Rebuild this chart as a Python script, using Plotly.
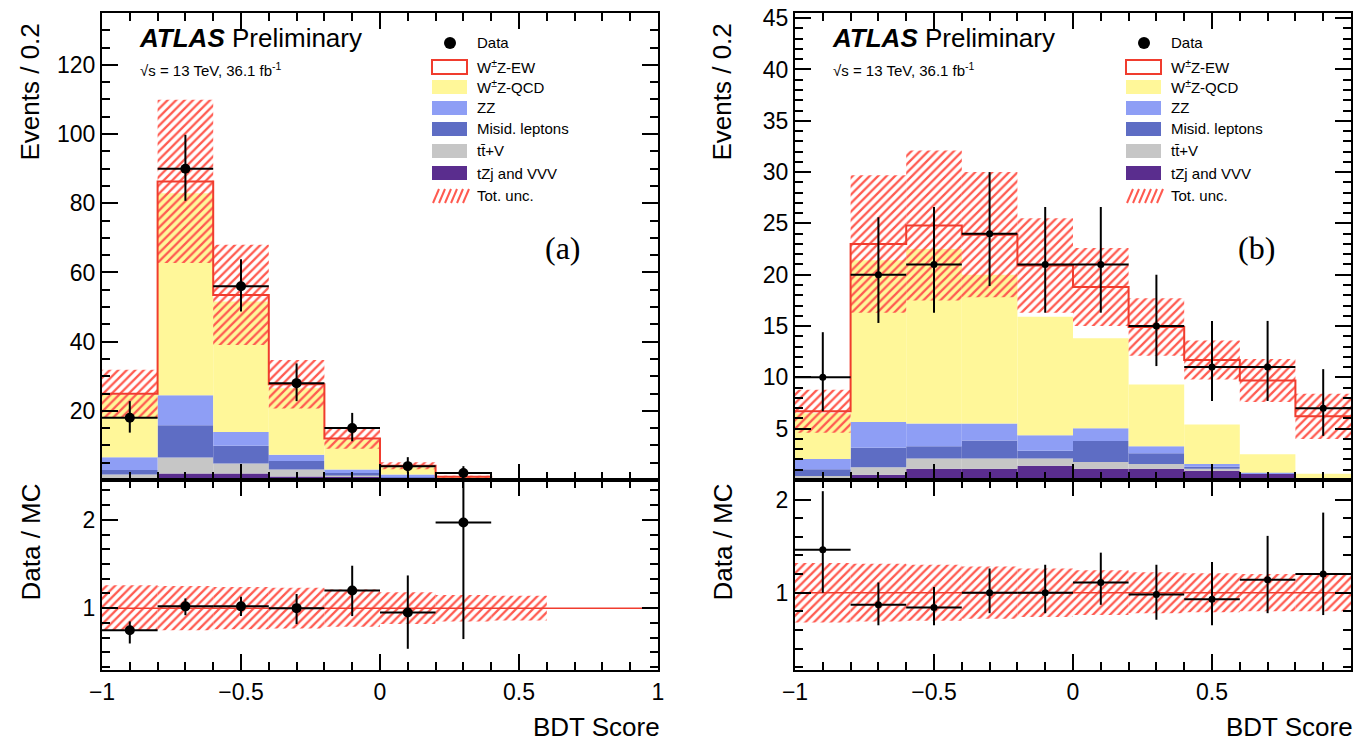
import numpy as np
import plotly.graph_objects as go

# ---------------- data ----------------
bin_edges = [-1.0, -0.8, -0.6, -0.4, -0.2, 0.0, 0.2, 0.4, 0.6, 0.8, 1.0]
bin_centers = [-0.9, -0.7, -0.5, -0.3, -0.1, 0.1, 0.3, 0.5, 0.7, 0.9]

# panel (a)
a_tzj_vvv = [0.1, 1.9, 1.9, 1.0, 0.9, 0.5, 0.1, 0.0, 0.0, 0.0]
a_ttv     = [1.5, 4.6, 2.9, 2.0, 0.4, 0.1, 0.05, 0.0, 0.0, 0.0]
a_misid   = [1.3, 9.3, 5.1, 2.5, 0.7, 0.2, 0.05, 0.0, 0.0, 0.0]
a_zz      = [3.7, 8.7, 4.0, 1.8, 1.0, 0.8, 0.1, 0.0, 0.0, 0.0]
a_wz_qcd  = [18.0, 58.4, 37.7, 19.2, 8.6, 2.1, 0.3, 0.05, 0.0, 0.0]
a_wz_ew   = [0.3, 3.4, 1.9, 1.2, 0.4, 0.4, 0.35, 0.1, 0.0, 0.0]
a_unc     = [7.0, 23.6, 14.5, 7.0, 3.0, 1.0, 0.3, 0.05, 0.0, 0.0]
a_data    = [18, 90, 56, 28, 15, 4, 2]
a_data_up = [4.8, 9.8, 7.8, 5.7, 4.4, 2.6, 2.0]
a_data_dn = [4.3, 9.3, 7.3, 5.2, 3.8, 1.9, 1.3]
a_ratio    = [0.75, 1.02, 1.02, 1.00, 1.20, 0.95, 1.97]
a_ratio_up = [0.10, 0.09, 0.11, 0.16, 0.28, 0.42, 1.00]
a_ratio_dn = [0.15, 0.10, 0.11, 0.18, 0.29, 0.41, 1.32]
a_ratio_unc = [0.26, 0.25, 0.24, 0.23, 0.21, 0.18, 0.15, 0.14]

# panel (b)
b_tzj_vvv = [0.1, 0.5, 1.1, 1.1, 1.4, 1.1, 1.1, 0.9, 0.6, 0.0]
b_ttv     = [0.3, 0.75, 1.0, 1.0, 0.7, 0.65, 0.45, 0.2, 0.03, 0.0]
b_misid   = [0.65, 1.9, 1.2, 1.75, 0.75, 2.05, 1.05, 0.2, 0.03, 0.0]
b_zz      = [1.0, 2.5, 2.2, 1.65, 1.5, 1.25, 0.7, 0.25, 0.04, 0.0]
b_wz_qcd  = [4.45, 15.75, 17.0, 14.5, 11.55, 8.75, 6.0, 3.85, 1.8, 0.6]
b_wz_ew   = [0.2, 1.6, 2.3, 3.9, 5.0, 5.0, 5.6, 6.3, 7.2, 5.6]
b_unc     = [2.1, 6.7, 7.3, 6.1, 4.6, 3.8, 2.8, 1.9, 2.1, 2.2]
b_data    = [10, 20, 21, 24, 21, 21, 15, 11, 11, 7]
b_data_up = [4.4, 5.6, 5.6, 6.0, 5.6, 5.6, 5.0, 4.5, 4.5, 3.8]
b_data_dn = [3.3, 4.7, 4.7, 5.1, 4.7, 4.7, 3.9, 3.3, 3.3, 2.7]
b_ratio    = [1.46, 0.87, 0.84, 1.00, 1.00, 1.11, 0.98, 0.93, 1.14, 1.20]
b_ratio_up = [0.63, 0.24, 0.22, 0.26, 0.30, 0.32, 0.32, 0.40, 0.47, 0.66]
b_ratio_dn = [0.46, 0.22, 0.19, 0.22, 0.22, 0.24, 0.27, 0.28, 0.36, 0.44]
b_ratio_unc = [0.32, 0.31, 0.30, 0.28, 0.26, 0.24, 0.22, 0.21, 0.20, 0.20]

a_yticks = [0, 20, 40, 60, 80, 100, 120]
b_yticks = [0, 5, 10, 15, 20, 25, 30, 35, 40, 45]
ratio_ticks = [1, 2]

legend_labels = ["Data", "W<sup>±</sup>Z-EW", "W<sup>±</sup>Z-QCD", "ZZ",
                 "Misid. leptons", "tt\u0304+V", "tZj and VVV", "Tot. unc."]

# ---------------- style ----------------
C_QCD = "#FFF799"
C_ZZ = "#8E9EF5"
C_MISID = "#5E6DC4"
C_TTV = "#C6C6C6"
C_TZJ = "#5A2D8E"
C_RED = "#F03C2E"
C_HATCH = "#FF5A50"
FONT = "Liberation Sans, Arial, Helvetica, sans-serif"
SERIF = "Liberation Serif, Times New Roman, serif"

W, H = 1356, 742


def P(px, py):
    return px / W, 1 - py / H


fig = go.Figure()


def add_panel(xa, ya, xr, yr, comps, ew, unc, data, dup, ddn,
              ratio, rup, rdn, runc, msize):
    comps = [np.array(c, dtype=float) for c in comps]
    base = np.zeros(len(bin_centers))
    colors = [C_TZJ, C_TTV, C_MISID, C_ZZ, C_QCD]
    for c, col in zip(comps, colors):
        fig.add_trace(go.Bar(x=bin_centers, y=c, base=base.copy(), width=0.2,
                             marker=dict(color=col, line=dict(width=0)),
                             xaxis=xa, yaxis=ya, showlegend=False, hoverinfo="skip"))
        base = base + c
    total = base + np.array(ew, dtype=float)
    unc = np.array(unc, dtype=float)
    m = total > 0
    xc = np.array(bin_centers)[m]
    fig.add_trace(go.Bar(x=xc, y=2 * unc[m], base=(total - unc)[m], width=0.2,
                         marker=dict(color=C_HATCH, line=dict(width=0),
                                     pattern=dict(shape="/", size=6, solidity=0.38,
                                                  fillmode="replace")),
                         xaxis=xa, yaxis=ya, showlegend=False, hoverinfo="skip"))
    fig.add_trace(go.Scatter(x=bin_edges, y=list(total) + [total[-1]], mode="lines",
                             line=dict(color=C_RED, width=2, shape="hv"),
                             xaxis=xa, yaxis=ya, showlegend=False, hoverinfo="skip"))
    n = len(data)
    fig.add_trace(go.Scatter(x=bin_centers[:n], y=data, mode="markers",
                             marker=dict(size=msize, color="black"),
                             error_x=dict(type="constant", value=0.1, width=0, thickness=2, color="black"),
                             error_y=dict(type="data", array=dup, arrayminus=ddn, width=0,
                                          thickness=2, color="black"),
                             xaxis=xa, yaxis=ya, showlegend=False, hoverinfo="skip"))
    # ratio panel
    runc = np.array(runc, dtype=float)
    k = len(runc)
    fig.add_trace(go.Bar(x=bin_centers[:k], y=2 * runc, base=1 - runc, width=0.2,
                         marker=dict(color=C_HATCH, line=dict(width=0),
                                     pattern=dict(shape="/", size=6, solidity=0.38,
                                                  fillmode="replace")),
                         xaxis=xr, yaxis=yr, showlegend=False, hoverinfo="skip"))
    fig.add_trace(go.Scatter(x=[bin_edges[0], bin_edges[-1]], y=[1, 1], mode="lines",
                             line=dict(color=C_RED, width=1.5),
                             xaxis=xr, yaxis=yr, showlegend=False, hoverinfo="skip"))
    n = len(ratio)
    fig.add_trace(go.Scatter(x=bin_centers[:n], y=ratio, mode="markers",
                             marker=dict(size=msize, color="black"),
                             error_x=dict(type="constant", value=0.1, width=0, thickness=2, color="black"),
                             error_y=dict(type="data", array=rup, arrayminus=rdn, width=0,
                                          thickness=2, color="black"),
                             xaxis=xr, yaxis=yr, showlegend=False, hoverinfo="skip"))


add_panel("x", "y", "x2", "y2",
          [a_tzj_vvv, a_ttv, a_misid, a_zz, a_wz_qcd], a_wz_ew, a_unc,
          a_data, a_data_up, a_data_dn, a_ratio, a_ratio_up, a_ratio_dn, a_ratio_unc, 10)
add_panel("x3", "y3", "x4", "y4",
          [b_tzj_vvv, b_ttv, b_misid, b_zz, b_wz_qcd], b_wz_ew, b_unc,
          b_data, b_data_up, b_data_dn, b_ratio, b_ratio_up, b_ratio_dn, b_ratio_unc, 7)

# ---------------- axes ----------------
left_dom = [102 / W, 658 / W]
right_dom = [795 / W, 1351 / W]
main_dom = [1 - 480 / H, 1 - 13 / H]
ratio_dom = [1 - 670 / H, 1 - 480 / H]


def ax(**kw):
    d = dict(showline=True, linecolor="black", linewidth=2, mirror="allticks",
             ticks="inside", ticklen=16, tickwidth=1.5, tickcolor="black",
             showgrid=False, zeroline=False, fixedrange=True, automargin=False,
             tickfont=dict(family=FONT, size=23, color="black"))
    d.update(kw)
    return d


def xax(dom, anchor, labels):
    return ax(domain=dom, anchor=anchor, range=[-1, 1], tick0=-1, dtick=0.5,
              showticklabels=labels,
              minor=dict(ticks="inside", ticklen=8, tickwidth=1.5, tickcolor="black", dtick=0.1, tick0=-1))


def yax(dom, anchor, rng, tv, minor_dtick, tl=16):
    return ax(domain=dom, anchor=anchor, range=rng, tickmode="array", tickvals=tv,
              ticktext=["" if v == 0 else str(v) for v in tv], ticklen=tl,
              minor=dict(ticks="inside", ticklen=8, tickwidth=1.5, tickcolor="black",
                         dtick=minor_dtick, tick0=0))


fig.update_layout(
    width=W, height=H, margin=dict(l=0, r=0, t=0, b=0, autoexpand=False),
    paper_bgcolor="white", plot_bgcolor="white",
    barmode="overlay", showlegend=False,
    xaxis=xax(left_dom, "y", False),
    yaxis=yax(main_dom, "x", [0, 135], a_yticks, 5),
    xaxis2=xax(left_dom, "y2", True),
    yaxis2=yax(ratio_dom, "x2", [0.3, 2.45], ratio_ticks, 1 / 6),
    xaxis3=xax(right_dom, "y3", False),
    yaxis3=yax(main_dom, "x3", [0, 45.5], b_yticks, 1),
    xaxis4=xax(right_dom, "y4", True),
    yaxis4=yax(ratio_dom, "x4", [0.17, 2.21], ratio_ticks, 0.2),
)

# ---------------- text & legend ----------------
ann = []
shapes = []


def text(px, py, s, size, xanchor="left", yanchor="middle", family=FONT, angle=0):
    x, y = P(px, py)
    ann.append(dict(x=x, y=y, xref="paper", yref="paper", text=s, showarrow=False,
                    xanchor=xanchor, yanchor=yanchor, textangle=angle,
                    font=dict(family=family, size=size, color="black")))


for off, lab in [(0, "(a)"), (693, "(b)")]:
    text(137 + off, 38, "<b><i>ATLAS</i></b> Preliminary", 26)
    text(138 + off, 70, "√s = 13 TeV, 36.1 fb<sup>-1</sup>", 15)
    text(563 + off, 248, lab, 32, xanchor="center", family=SERIF)
    text(30 + off * (692 / 693), 22, "Events / 0.2", 26, xanchor="center", yanchor="top", angle=-90)
    text(30 + off * (692 / 693), 482, "Data / MC", 26, xanchor="center", yanchor="top", angle=-90)
    text(662 + off, 727, "BDT Score", 26, xanchor="right")

rows = [43, 67, 87, 108, 129, 151, 173, 196]
fills = [None, "white", C_QCD, C_ZZ, C_MISID, C_TTV, C_TZJ, None]
for bx in [432, 1126]:
    tx = bx + 43
    for i, (ry, lab) in enumerate(zip(rows, legend_labels)):
        text(tx, ry, lab, 15)
        if i == 0:
            x0, y0 = P(bx + 12, ry - 6)
            x1, y1 = P(bx + 24, ry + 6)
            shapes.append(dict(type="circle", xref="paper", yref="paper", x0=x0, x1=x1,
                               y0=y0, y1=y1, fillcolor="black", line=dict(width=0)))
        elif i == len(rows) - 1:
            for k in range(6):
                xa0, ya0 = P(bx + 1 + 6 * k, ry + 7)
                xa1, ya1 = P(bx + 7 + 6 * k, ry - 7)
                shapes.append(dict(type="line", xref="paper", yref="paper", x0=xa0, y0=ya0,
                                   x1=xa1, y1=ya1, line=dict(color=C_HATCH, width=2)))
        else:
            x0, y0 = P(bx, ry - 7)
            x1, y1 = P(bx + 35, ry + 7)
            line = dict(color=C_RED, width=2) if i == 1 else dict(width=0)
            shapes.append(dict(type="rect", xref="paper", yref="paper", x0=x0, x1=x1,
                               y0=y0, y1=y1, fillcolor=fills[i], line=line))

fig.update_layout(annotations=ann, shapes=shapes)
fig.write_html("out.html", config={"displayModeBar": False},
               post_script="document.body.style.margin='0px';document.body.style.overflow='hidden';")
